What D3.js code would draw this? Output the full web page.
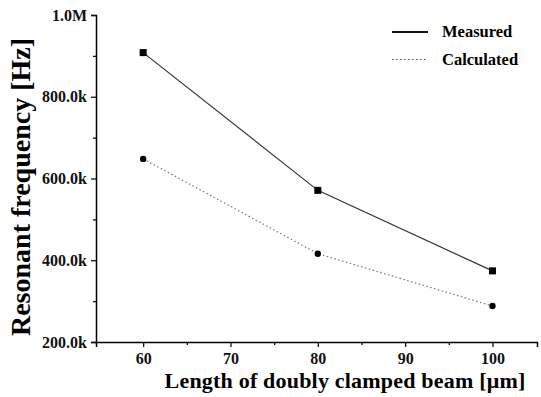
<!DOCTYPE html>
<html>
<head>
<meta charset="utf-8">
<script src="https://cdn.jsdelivr.net/npm/d3@7"></script>
<style>
  body { margin: 0; background: #fff; }
</style>
</head>
<body>
<div id="chart"></div>
<script>
// beam length [um]
const lengths = [60, 80, 100];
const measured = [908000, 571000, 374000];
const calculated = [648000, 416000, 288000];
const xTicks = [60, 70, 80, 90, 100];
const yTicks = [200000, 400000, 600000, 800000, 1000000];
const seriesNames = ["Measured", "Calculated"];

const FONT = "'Liberation Serif', 'Times New Roman', serif";
const W = 541, H = 397;
const margin = {top: 15, right: 4, bottom: 55, left: 96};
const width = W - margin.left - margin.right;
const height = H - margin.top - margin.bottom;

const svg = d3.select("#chart").append("svg")
    .attr("width", W).attr("height", H)
    .append("g")
    .attr("transform", "translate(" + margin.left + "," + margin.top + ")");

const x = d3.scaleLinear().domain([54.6, 105.1]).range([0, width]);
const y = d3.scaleLinear().domain([200000, 1000000]).range([height, 0]);

const fmt = d => d >= 1000000 ? (d / 1000000).toFixed(1) + "M" : (d / 1000).toFixed(1) + "k";

// minor ticks
svg.append("g")
    .attr("transform", "translate(0," + height + ")")
    .call(d3.axisBottom(x).tickValues([65, 75, 85, 95]).tickSize(3).tickFormat(""))
    .call(g => g.select(".domain").remove());
svg.append("g")
    .call(d3.axisLeft(y).tickValues([300000, 500000, 700000, 900000]).tickSize(3).tickFormat(""))
    .call(g => g.select(".domain").remove());

// x axis
svg.append("g")
    .attr("transform", "translate(0," + height + ")")
    .call(d3.axisBottom(x).tickValues(xTicks).tickSize(5).tickPadding(5.5))
    .call(g => g.select(".domain").attr("stroke-width", 1.5));

// y axis
svg.append("g")
    .call(d3.axisLeft(y).tickValues(yTicks).tickFormat(fmt).tickSize(5).tickPadding(4))
    .call(g => g.select(".domain").attr("stroke-width", 1.5));

svg.selectAll(".tick line").attr("stroke", "#111").attr("stroke-width", 1.3);
svg.selectAll(".tick text")
    .style("font-family", FONT)
    .style("font-weight", "bold")
    .style("font-size", "16px")
    .attr("fill", "#111");

// titles
svg.append("text")
    .attr("x", 345 - margin.left)
    .attr("y", 388 - margin.top)
    .attr("text-anchor", "middle")
    .style("font-family", FONT)
    .style("font-weight", "bold")
    .style("font-size", "22px")
    .style("letter-spacing", "0.2px")
    .text("Length of doubly clamped beam [\u03bcm]");

svg.append("text")
    .attr("transform", "rotate(-90)")
    .attr("x", -172)
    .attr("y", -66)
    .attr("text-anchor", "middle")
    .style("font-family", FONT)
    .style("font-weight", "bold")
    .style("font-size", "28px")
    .text("Resonant frequency [Hz]");

// lines
const line = vals => d3.line()
    .x((d, i) => x(lengths[i]))
    .y(d => y(d))(vals);

svg.append("path")
    .attr("d", line(measured))
    .attr("fill", "none")
    .attr("stroke", "#333")
    .attr("stroke-width", 1.2);

svg.append("path")
    .attr("d", line(calculated))
    .attr("fill", "none")
    .attr("stroke", "#777")
    .attr("stroke-width", 1.2)
    .attr("stroke-dasharray", "1.5,2.5");

svg.selectAll(".sq").data(measured).enter()
    .append("rect")
    .attr("x", (d, i) => x(lengths[i]) - 3.5)
    .attr("y", d => y(d) - 3.5)
    .attr("width", 7).attr("height", 7)
    .attr("fill", "#000");

svg.selectAll(".dot").data(calculated).enter()
    .append("circle")
    .attr("cx", (d, i) => x(lengths[i]))
    .attr("cy", d => y(d))
    .attr("r", 3.2)
    .attr("fill", "#000");

// legend
const legend = svg.append("g").attr("transform", "translate(" + (392 - margin.left) + "," + (32 - margin.top) + ")");
legend.append("line").attr("x1", 0).attr("x2", 36).attr("y1", 0).attr("y2", 0)
    .attr("stroke", "#111").attr("stroke-width", 2.2);
legend.append("line").attr("x1", 0).attr("x2", 36).attr("y1", 27.5).attr("y2", 27.5)
    .attr("stroke", "#555").attr("stroke-width", 1.2).attr("stroke-dasharray", "1.5,2.5");
legend.selectAll("text").data(seriesNames).enter()
    .append("text")
    .attr("x", 50).attr("y", (d, i) => 4.5 + i * 28.5)
    .style("font-family", FONT)
    .style("font-weight", "bold").style("font-size", "16.5px")
    .text(d => d);
</script>
</body>
</html>
